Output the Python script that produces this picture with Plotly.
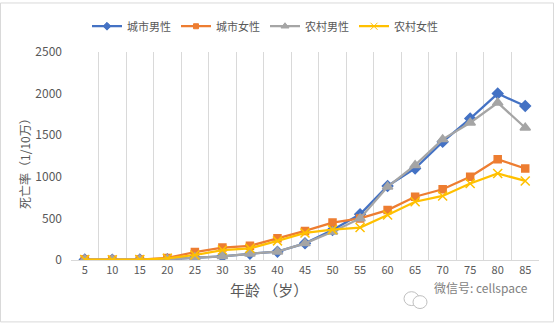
import plotly.graph_objects as go

# Age groups (years) and mortality per 100,000
ages = ["5", "10", "15", "20", "25", "30", "35", "40", "45", "50", "55", "60", "65", "70", "75", "80", "85"]
urban_male = [5, 3, 5, 10, 30, 45, 75, 100, 200, 360, 550, 890, 1100, 1420, 1700, 2000, 1850]
urban_female = [5, 3, 5, 25, 95, 150, 170, 260, 350, 450, 500, 600, 760, 850, 1000, 1210, 1100]
rural_male = [5, 3, 5, 10, 30, 45, 75, 100, 200, 340, 500, 880, 1140, 1450, 1650, 1890, 1590]
rural_female = [5, 3, 5, 20, 60, 120, 140, 230, 325, 365, 390, 540, 700, 770, 920, 1040, 950]

series = [
    ("城市男性", urban_male, "#4472C4", "diamond", 8),
    ("城市女性", urban_female, "#ED7D31", "square", 7),
    ("农村男性", rural_male, "#A5A5A5", "triangle-up", 9),
    ("农村女性", rural_female, "#FFC000", "x-thin-open", 9),
]

FONT = "Noto Sans CJK SC, Microsoft YaHei, sans-serif"
W, H = 554, 323
ML, MR, MT, MB = 71, 15, 50, 63
PW, PH = W - ML - MR, H - MT - MB


def px(x):
    return (x - ML) / PW


def py(y):
    return (H - MB - y) / PH


fig = go.Figure()
for name, vals, color, sym, size in series:
    fig.add_trace(go.Scatter(
        x=ages, y=vals, name=name, mode="lines+markers",
        line=dict(color=color, width=2.25),
        marker=dict(symbol=sym, size=size, color=color,
                    line=dict(color=color, width=1.5)),
        showlegend=False,
    ))
    # legend entry with a smaller marker
    fig.add_trace(go.Scatter(
        x=[None], y=[None], name=name, mode="lines+markers",
        line=dict(color=color, width=2.25),
        marker=dict(symbol=sym, size=size - 2, color=color,
                    line=dict(color=color, width=1)),
    ))

fig.update_layout(
    width=W, height=H,
    margin=dict(l=ML, r=MR, t=MT, b=MB),
    paper_bgcolor="white", plot_bgcolor="white",
    font=dict(family=FONT, color="#595959", size=12),
    showlegend=True,
    legend=dict(orientation="h", x=px(265), xanchor="center",
                y=py(24), yanchor="middle",
                font=dict(size=11, color="#595959"),
                itemwidth=30, tracegroupgap=0),
    xaxis=dict(type="category", range=[-0.5, 16.5], tickson="boundaries",
               showgrid=True, gridcolor="#D9D9D9", gridwidth=1,
               showline=True, linecolor="#D9D9D9", ticks="",
               tickfont=dict(size=11, color="#595959"), fixedrange=True),
    yaxis=dict(range=[0, 2500], dtick=500, showgrid=False, zeroline=False,
               showline=False, ticks="", ticklabelstandoff=8,
               tickfont=dict(size=12, color="#595959"), fixedrange=True),
)

# Axis titles
fig.add_annotation(text="死亡率（1/10万）", xref="paper", yref="paper",
                   x=px(25), y=py(160), xanchor="center", yanchor="middle",
                   textangle=-90, showarrow=False,
                   font=dict(size=12, color="#595959"))
fig.add_annotation(text="年龄 （岁）", xref="paper", yref="paper",
                   x=px(269), y=py(302), showarrow=False,
                   font=dict(size=15, color="#595959"))

# Watermark: chat-bubble icon and account name
fig.add_shape(type="circle", xref="paper", yref="paper",
              x0=px(404), x1=px(419), y0=py(306), y1=py(292),
              line=dict(color="#BFBFBF", width=1))
fig.add_shape(type="circle", xref="paper", yref="paper",
              x0=px(413), x1=px(427), y0=py(309), y1=py(296),
              line=dict(color="#BFBFBF", width=1), fillcolor="white")
fig.add_annotation(text="微信号: cellspace", xref="paper", yref="paper",
                   x=px(432), y=py(298), xanchor="left", showarrow=False,
                   font=dict(size=12, color="#7F7F7F"))

# Outer chart border
fig.add_shape(type="rect", xref="paper", yref="paper",
              x0=px(0.5), x1=px(W - 0.5), y0=py(H - 0.5), y1=py(0.5),
              line=dict(color="#D9D9D9", width=1), layer="below")

fig.write_html("out.html")
